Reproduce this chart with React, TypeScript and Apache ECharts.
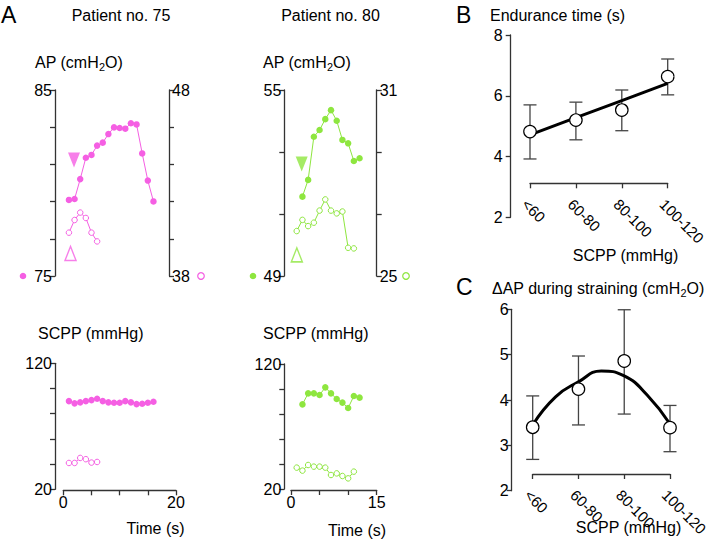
import React, { useEffect, useRef } from 'react';
import * as echarts from 'echarts';

const FONT = 'Liberation Sans, Arial, Helvetica, sans-serif';
const MAGENTA = '#f55fe3';
const GREEN = '#8ee63f';
const AXIS = '#333333';

// ---- Patient no. 75 ----
const p75FilledTime = [1, 2, 3, 4, 5, 6, 7, 8, 9, 10, 11, 12, 13, 14, 15, 16];
const p75ApFilled = [79.09, 79.14, 80.21, 81.36, 81.51, 82.01, 82.17, 82.63, 82.99, 82.96, 82.92, 83.21, 83.15, 81.59, 80.13, 79.01];
const p75OpenTime = [1, 2, 3, 4, 5, 6];
const p75ApOpen = [40.33, 41.01, 41.41, 41.12, 40.33, 39.86];
const p75ScppFilled = [90.0, 88.2, 89.0, 90.0, 90.8, 91.9, 90.0, 89.0, 88.7, 88.7, 90.0, 89.0, 87.6, 87.9, 88.7, 89.5];
const p75ScppOpen = [40.9, 40.9, 44.9, 43.9, 41.2, 41.7];
const p75Markers = { down: [1.9, 81.24], up: [1.28, 76.21] };
const p75ApLeftTicks = [75, 77, 79, 81, 83, 85];
const p75ApLeftLabels = [75, 85];
const p75ApRightTicks = [38, 40, 42, 44, 46, 48];
const p75ApRightLabels = [38, 48];
const p75TimeLabels = [0, 20];

// ---- Patient no. 80 ----
const p80FilledTime = [2, 3, 4, 5, 6, 7, 8, 9, 10, 11, 12];
const p80ApFilled = [51.56, 52.1, 53.49, 53.71, 54.06, 54.35, 54.01, 53.39, 53.28, 52.71, 52.8];
const p80OpenTime = [1, 2, 3, 4, 5, 6, 7, 8, 9, 10, 11];
const p80ApOpen = [26.45, 26.81, 26.61, 26.72, 27.11, 27.47, 27.11, 27.02, 27.08, 25.91, 25.89];
const p80ScppFilled = [87.7, 96.5, 96.5, 95.2, 101.3, 96.5, 92.0, 89.1, 84.8, 94.4, 93.1];
const p80ScppOpen = [37.1, 34.7, 39.2, 37.9, 37.9, 37.1, 31.2, 32.5, 30.4, 28.5, 33.9];
const p80Markers = { down: [1.87, 52.61], up: [1.02, 49.68] };
const p80ApLeftTicks = [49, 51, 53, 55];
const p80ApLeftLabels = [49, 55];
const p80ApRightTicks = [25, 27, 29, 31];
const p80ApRightLabels = [25, 31];
const p80TimeLabels = [0, 15];

const scppTicks = [20, 40, 60, 80, 100, 120];
const scppLabels = [20, 120];

// ---- Panels B and C ----
const categories = ['<60', '60-80', '80-100', '100-120'];
const enduranceMean = [4.82, 5.2, 5.53, 6.63];
const enduranceLow = [3.92, 4.55, 4.85, 6.03];
const enduranceHigh = [5.7, 5.79, 6.19, 7.21];
const enduranceFit = [4.71, 5.28, 5.84, 6.41];

const dapMean = [3.4, 4.24, 4.86, 3.39];
const dapLow = [2.69, 3.45, 3.69, 2.86];
const dapHigh = [4.09, 4.97, 5.99, 3.88];
const dapFitX = [0, 0.5, 1, 1.5, 2, 2.5, 3];
const dapFitY = [3.45, 4.07, 4.4, 4.64, 4.53, 4.11, 3.47];

const zip = (xs: number[], ys: number[]) => xs.map((x, i) => [x, ys[i]]);

const axisLine = { show: true, onZero: false, lineStyle: { color: AXIS, width: 1.3 } };
const tick = (extra: any = {}) => ({ show: true, length: 5, lineStyle: { color: AXIS, width: 1.3 }, ...extra });
const label = (extra: any = {}) => ({ color: '#000', fontSize: 16, fontFamily: FONT, margin: 3, ...extra });
const noSplit = { show: false };

const hiddenX = (gridIndex: number, max: number) => ({
  type: 'value', gridIndex, min: 0, max, show: false, axisLine: { show: false, onZero: false },
});
const hiddenY = (gridIndex: number, min: number, max: number) => ({
  type: 'value', gridIndex, min, max, show: false, axisLine: { show: false, onZero: false },
});

const yAx = (gridIndex: number, min: number, max: number, ticks: number[], labels: number[], position: string, extra: any = {}) => ({
  type: 'value', gridIndex, min, max, position,
  axisLine, axisTick: tick({ customValues: ticks }), axisLabel: label({ customValues: labels, ...extra }), splitLine: noSplit,
});

const filledLine = (name: string, x: number, y: number, t: number[], v: number[], color: string) => ({
  type: 'line', name, xAxisIndex: x, yAxisIndex: y, data: zip(t, v), symbol: 'circle', symbolSize: 6.5,
  itemStyle: { color }, lineStyle: { color, width: 1 }, z: 3,
});
const openLine = (name: string, x: number, y: number, t: number[], v: number[], color: string) => ({
  type: 'line', name, xAxisIndex: x, yAxisIndex: y, data: zip(t, v), symbol: 'circle', symbolSize: 5.5,
  itemStyle: { color: '#ffffff', borderColor: color, borderWidth: 1 }, lineStyle: { color, width: 1 }, z: 3,
});
const markerSeries = (x: number, y: number, m: { down: number[]; up: number[] }, color: string) => [
  { type: 'scatter', xAxisIndex: x, yAxisIndex: y, data: [m.down], symbol: 'triangle', symbolRotate: 180, symbolSize: [12, 15], itemStyle: { color } },
  { type: 'scatter', xAxisIndex: x, yAxisIndex: y, data: [m.up], symbol: 'triangle', symbolSize: [11, 14], itemStyle: { color: 'rgba(255,255,255,0)', borderColor: color, borderWidth: 1.5 } },
];

const errorBarItem = (params: any, api: any) => {
  const i = api.value(0);
  const lo = api.coord([i, api.value(1)]);
  const hi = api.coord([i, api.value(2)]);
  const w = 6.5;
  const style = { stroke: '#444', lineWidth: 1.3, fill: 'none' };
  return {
    type: 'group',
    children: [
      { type: 'line', shape: { x1: lo[0], y1: lo[1], x2: hi[0], y2: hi[1] }, style },
      { type: 'line', shape: { x1: lo[0] - w, y1: lo[1], x2: lo[0] + w, y2: lo[1] }, style },
      { type: 'line', shape: { x1: hi[0] - w, y1: hi[1], x2: hi[0] + w, y2: hi[1] }, style },
    ],
  };
};

const text = (t: string, x: number, y: number, size: number, align = 'left', rich?: any) => ({
  type: 'text', x, y, silent: true,
  style: {
    text: t, fill: '#000', fontSize: size, fontFamily: FONT,
    align, textAlign: align, verticalAlign: 'middle', textVerticalAlign: 'middle',
    ...(rich ? { rich } : {}),
  },
});
const subRich = (size: number) => ({
  a: { fontSize: size, fontFamily: FONT, fill: '#000', lineHeight: 20 },
  s: { fontSize: size * 0.68, fontFamily: FONT, fill: '#000', lineHeight: 10, verticalAlign: 'bottom' },
});
const dot = (x: number, y: number, color: string, filled: boolean) => ({
  type: 'circle', shape: { cx: x, cy: y, r: 3.3 }, silent: true,
  style: filled ? { fill: color } : { fill: '#fff', stroke: color, lineWidth: 1.2 },
});

const catAxis = (gridIndex: number, offset: number) => ({
  type: 'category', gridIndex, data: categories, boundaryGap: false, offset,
  axisLine, axisTick: tick({ alignWithLabel: true, interval: 0 }),
  axisLabel: label({ fontSize: 15, rotate: -45, margin: 13, interval: 0, verticalAlign: 'top', align: 'left' }),
  splitLine: noSplit,
});

export default function App() {
  const ref = useRef<HTMLDivElement>(null);
  useEffect(() => {
    if (!ref.current) return;
    const chart = echarts.init(ref.current, undefined, { renderer: 'svg' });
    const g = (left: number, top: number, width: number, height: number) => ({
      left, top, width, height, containLabel: false, outerBoundsMode: 'none',
    });
    chart.setOption({
      animation: false,
      backgroundColor: '#ffffff',
      textStyle: { fontFamily: FONT },
      grid: [
        g(63.3, 90, 112.7, 186), // 0 AP 75 data
        g(291, 90, 85.7, 186), // 1 AP 80 data
        g(63.3, 363.3, 112.7, 126), // 2 SCPP 75 data
        g(291, 364, 85.7, 125), // 3 SCPP 80 data
        g(530, 35, 137.7, 182.3), // 4 B data
        g(532.7, 309.3, 137.3, 181.4), // 5 C data
        g(55, 90, 114, 186), // 6 AP 75 axes
        g(284.3, 90, 92.4, 186), // 7 AP 80 axes
        g(55, 363.3, 50, 126), // 8 SCPP 75 axis
        g(284.3, 364, 50, 125), // 9 SCPP 80 axis
        g(510.7, 35, 50, 182.3), // 10 B axis
        g(511.7, 309.3, 50, 181.4), // 11 C axis
      ],
      xAxis: [
        hiddenX(0, 20),
        hiddenX(1, 15),
        {
          type: 'value', gridIndex: 2, min: 0, max: 20, interval: 5, position: 'bottom', offset: 1,
          axisLine, axisTick: tick(), axisLabel: label({ customValues: p75TimeLabels, margin: 4 }), splitLine: noSplit,
        },
        {
          type: 'value', gridIndex: 3, min: 0, max: 15, interval: 5, position: 'bottom', offset: 1,
          axisLine, axisTick: tick(), axisLabel: label({ customValues: p80TimeLabels, margin: 4 }), splitLine: noSplit,
        },
        catAxis(4, -34),
        catAxis(5, -16.7),
        hiddenX(5, 3),
        hiddenX(6, 1),
        hiddenX(7, 1),
        hiddenX(8, 1),
        hiddenX(9, 1),
        hiddenX(10, 1),
        hiddenX(11, 1),
      ],
      yAxis: [
        hiddenY(0, 75, 85),
        hiddenY(0, 38, 48),
        hiddenY(1, 49, 55),
        hiddenY(1, 25, 31),
        hiddenY(2, 20, 120),
        hiddenY(3, 20, 120),
        hiddenY(4, 2, 8),
        hiddenY(5, 2, 6),
        yAx(6, 75, 85, p75ApLeftTicks, p75ApLeftLabels, 'left'),
        yAx(6, 38, 48, p75ApRightTicks, p75ApRightLabels, 'right'),
        yAx(7, 49, 55, p80ApLeftTicks, p80ApLeftLabels, 'left'),
        yAx(7, 25, 31, p80ApRightTicks, p80ApRightLabels, 'right'),
        yAx(8, 20, 120, scppTicks, scppLabels, 'left'),
        yAx(9, 20, 120, scppTicks, scppLabels, 'left'),
        {
          type: 'value', gridIndex: 10, min: 2, max: 8, interval: 2, position: 'left',
          axisLine, axisTick: tick(), axisLabel: label({ fontSize: 16, margin: 8 }), splitLine: noSplit,
        },
        {
          type: 'value', gridIndex: 11, min: 2, max: 6, interval: 1, position: 'left',
          axisLine, axisTick: tick(), axisLabel: label({ fontSize: 16, margin: 3 }), splitLine: noSplit,
        },
      ],
      series: [
        filledLine('AP 75', 0, 0, p75FilledTime, p75ApFilled, MAGENTA),
        openLine('AP 75 open', 0, 1, p75OpenTime, p75ApOpen, MAGENTA),
        ...markerSeries(0, 0, p75Markers, MAGENTA),
        filledLine('AP 80', 1, 2, p80FilledTime, p80ApFilled, GREEN),
        openLine('AP 80 open', 1, 3, p80OpenTime, p80ApOpen, GREEN),
        ...markerSeries(1, 2, p80Markers, GREEN),
        filledLine('SCPP 75', 2, 4, p75FilledTime, p75ScppFilled, MAGENTA),
        openLine('SCPP 75 open', 2, 4, p75OpenTime, p75ScppOpen, MAGENTA),
        filledLine('SCPP 80', 3, 5, p80FilledTime, p80ScppFilled, GREEN),
        openLine('SCPP 80 open', 3, 5, p80OpenTime, p80ScppOpen, GREEN),
        {
          type: 'custom', xAxisIndex: 4, yAxisIndex: 6, renderItem: errorBarItem, z: 1,
          data: categories.map((_, i) => [i, enduranceLow[i], enduranceHigh[i]]), encode: { x: 0, y: [1, 2] },
        },
        {
          type: 'line', xAxisIndex: 4, yAxisIndex: 6, data: enduranceFit, symbol: 'none',
          lineStyle: { color: '#000', width: 3 }, z: 2,
        },
        {
          type: 'scatter', xAxisIndex: 4, yAxisIndex: 6, data: enduranceMean, symbol: 'circle', symbolSize: 12.5,
          itemStyle: { color: '#fff', borderColor: '#000', borderWidth: 1.2, opacity: 1 }, z: 4,
        },
        {
          type: 'custom', xAxisIndex: 5, yAxisIndex: 7, renderItem: errorBarItem, z: 1,
          data: categories.map((_, i) => [i, dapLow[i], dapHigh[i]]), encode: { x: 0, y: [1, 2] },
        },
        {
          type: 'line', xAxisIndex: 6, yAxisIndex: 7, data: zip(dapFitX, dapFitY), symbol: 'none', smooth: true,
          lineStyle: { color: '#000', width: 3 }, z: 2,
        },
        {
          type: 'scatter', xAxisIndex: 5, yAxisIndex: 7, data: dapMean, symbol: 'circle', symbolSize: 12.5,
          itemStyle: { color: '#fff', borderColor: '#000', borderWidth: 1.2, opacity: 1 }, z: 4,
        },
      ],
      graphic: [
        text('A', 1, 15, 23),
        text('Patient no. 75', 121, 15, 16, 'center'),
        text('Patient no. 80', 330.5, 15, 16, 'center'),
        text('{a|AP (cmH}{s|2}{a|O)}', 35, 62, 16, 'left', subRich(16)),
        text('{a|AP (cmH}{s|2}{a|O)}', 263, 62, 16, 'left', subRich(16)),
        text('SCPP (mmHg)', 38, 333, 16),
        text('SCPP (mmHg)', 263, 333, 16),
        text('Time (s)', 155.5, 528, 16, 'center'),
        text('Time (s)', 357, 530, 16, 'center'),
        dot(23, 276, MAGENTA, true),
        dot(201, 276, MAGENTA, false),
        dot(253, 276, GREEN, true),
        dot(406, 276, GREEN, false),
        text('B', 456, 14.5, 23),
        text('Endurance time (s)', 490, 15, 16),
        text('SCPP (mmHg)', 625.5, 255, 16, 'center'),
        text('C', 456, 287, 23),
        text('{a|ΔAP during straining (cmH}{s|2}{a|O)}', 492, 288, 16, 'left', subRich(16)),
        text('SCPP (mmHg)', 628.5, 527, 16, 'center'),
      ],
    });
    return () => chart.dispose();
  }, []);
  return <div ref={ref} style={{ position: 'absolute', left: 0, top: 0, width: 709, height: 556 }} />;
}
